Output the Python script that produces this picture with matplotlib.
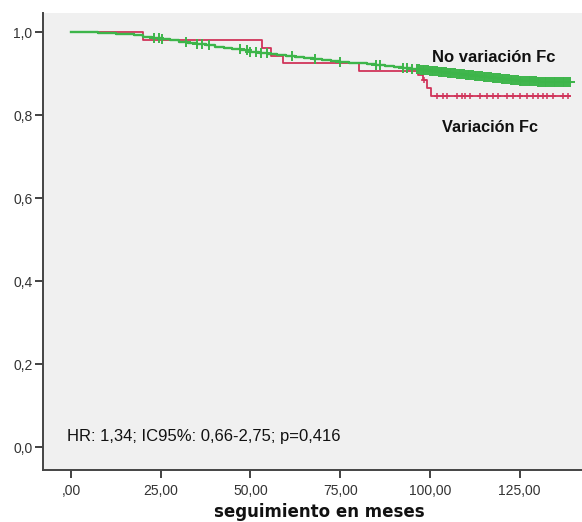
import matplotlib
matplotlib.use("Agg")
import matplotlib.pyplot as plt
import numpy as np

# --- data -------------------------------------------------------------
green_t = [0, 2.5, 5, 7.5, 10, 12.5, 15, 17.5, 20, 22.5, 25, 27.5, 30, 32.5,
           35, 37.5, 40, 42.5, 45, 47.5, 50, 52.5, 55, 57.5, 60, 62.5, 65,
           67.5, 70, 72.5, 75, 77.5, 80, 82.5, 85, 87.5, 90, 92.5, 95, 97.5,
           100, 102.5, 105, 107.5, 110, 112.5, 115, 117.5, 120, 122.5, 125,
           127.5, 130, 135, 139]
green_s = [1.0, 1.0, 0.999, 0.998, 0.997, 0.996, 0.994, 0.992, 0.989, 0.986,
           0.983, 0.980, 0.977, 0.974, 0.971, 0.968, 0.965, 0.962, 0.959,
           0.956, 0.953, 0.950, 0.947, 0.945, 0.942, 0.940, 0.938, 0.935,
           0.933, 0.930, 0.928, 0.926, 0.925, 0.922, 0.920, 0.918, 0.916,
           0.914, 0.912, 0.909, 0.906, 0.904, 0.901, 0.899, 0.897, 0.895,
           0.892, 0.889, 0.886, 0.884, 0.882, 0.881, 0.880, 0.879, 0.879]
green_cens = [23, 24.5, 25.5, 32, 35, 36.5, 38.5, 47, 49, 50, 51.5, 53, 54.5,
              61.5, 68, 75, 85, 86, 92.5, 93.5, 95,
              96.5, 97, 97.5, 98, 98.5, 99, 99.5, 100, 100.5, 101, 101.5, 102,
              102.5, 103, 103.5, 104, 104.5, 105, 105.5, 106, 106.5, 107,
              107.5, 108, 108.5, 109, 109.5, 110, 110.5, 111, 111.5, 112,
              112.5, 113, 113.5, 114, 114.5, 115, 115.5, 116, 116.5, 117,
              117.5, 118, 118.5, 119, 119.5, 120, 120.5, 121, 121.5, 122,
              122.5, 123, 123.5, 124, 124.5, 125, 125.5, 126, 126.5, 127,
              127.5, 128, 128.5, 129, 129.5, 130, 130.5, 131, 131.5, 132,
              132.5, 133, 133.5, 134, 134.5, 135, 135.5, 136, 136.5, 137,
              137.5, 138, 138.5, 139]

red_t = [0, 20, 53.3, 55.6, 59, 80.3, 96.7, 98, 99.2, 100.4, 139]
red_s = [1.0, 0.981, 0.962, 0.942, 0.925, 0.906, 0.896, 0.884, 0.865, 0.845, 0.845]
red_cens = [98.5, 101.9, 103.8, 104.7, 107.5, 108.9, 109.8, 111.2, 114, 115.9,
            117.7, 119.1, 121.4, 123.3, 125.1, 127, 128.8, 130.2, 131.6, 132.6,
            134.4, 137.2, 138.6]

xticks = [0, 25, 50, 75, 100, 125]
xticklabels = [",00", "25,00", "50,00", "75,00", "100,00", "125,00"]
yticks = [0.0, 0.2, 0.4, 0.6, 0.8, 1.0]
yticklabels = ["0,0", "0,2", "0,4", "0,6", "0,8", "1,0"]

label_green = "No variación Fc"
label_red = "Variación Fc"
stats_text = "HR: 1,34; IC95%: 0,66-2,75; p=0,416"
xlabel = "seguimiento en meses"

green_col = "#3db54a"
red_col = "#d0345a"


def step_value(ts, ss, x):
    idx = np.searchsorted(ts, x, side="right") - 1
    return np.asarray(ss)[idx]


# --- figure -----------------------------------------------------------
fig = plt.figure(figsize=(5.82, 5.22), dpi=100)
fig.patch.set_facecolor("white")
ax = fig.add_axes([43 / 582, 1 - 470 / 522, 1 - 43 / 582, (470 - 13) / 522])
ax.set_facecolor("#f0f0f0")

ax.step(green_t, green_s, where="post", color=green_col, lw=1.7, zorder=3)
ax.step(red_t, red_s, where="post", color=red_col, lw=1.3, zorder=2)

ax.plot(green_cens, step_value(green_t, green_s, green_cens), linestyle="none",
        marker="+", ms=6.5, mew=1.4, color=green_col, zorder=3)
ax.plot(red_cens, step_value(red_t, red_s, red_cens), linestyle="none",
        marker="+", ms=5, mew=1.1, color=red_col, zorder=2)

ax.set_xlim(-7.8, 142.4)
ax.set_ylim(-0.0554, 1.0458)

ax.set_xticks(xticks)
ax.set_xticklabels(xticklabels)
ax.set_yticks(yticks)
ax.set_yticklabels(yticklabels)

for s in ["top", "right"]:
    ax.spines[s].set_visible(False)
for s in ["left", "bottom"]:
    ax.spines[s].set_color("#444444")
    ax.spines[s].set_linewidth(1.4)

ax.tick_params(axis="both", direction="out", length=6, width=1.3,
               color="#333333", labelsize=10, labelcolor="#333333",
               labelfontfamily="Liberation Sans")
ax.tick_params(axis="x", pad=4)
ax.tick_params(axis="y", pad=1.5)

fig.text(432 / 582, 1 - 57 / 522, label_green, fontsize=12, fontweight="bold",
         family="Liberation Sans", color="#111111", va="center", ha="left")
fig.text(442 / 582, 1 - 127 / 522, label_red, fontsize=11.7, fontweight="bold",
         family="Liberation Sans", color="#111111", va="center", ha="left")
fig.text(67 / 582, 1 - 437 / 522, stats_text, fontsize=12,
         family="Liberation Sans", color="#111111", va="center", ha="left")

fig.text(319 / 582, 1 - 512 / 522, xlabel, fontsize=12, fontweight="bold",
         family="DejaVu Sans", color="#111111", va="center", ha="center")

fig.savefig("out.png", dpi=100)
